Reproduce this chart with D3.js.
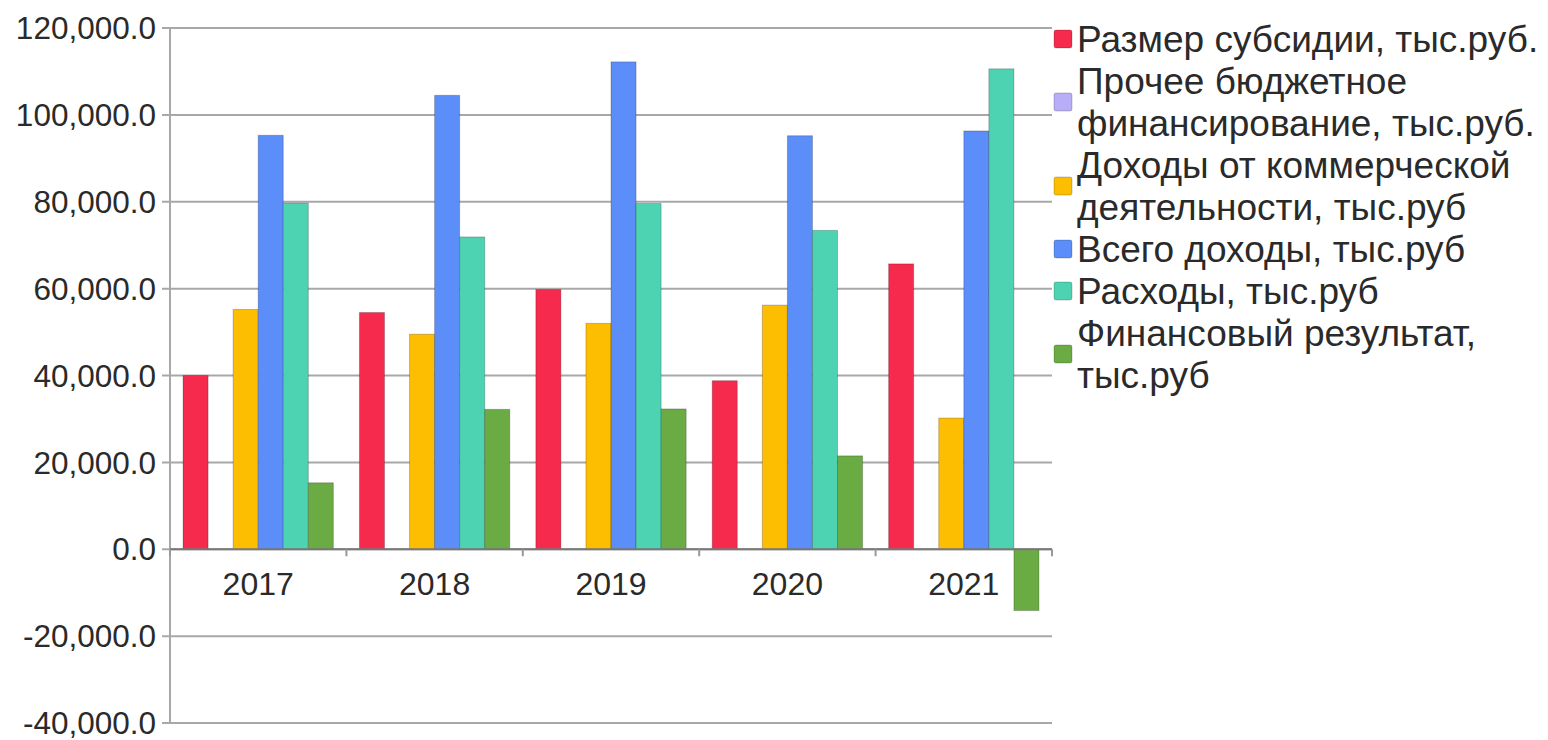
<!DOCTYPE html>
<html>
<head>
<meta charset="utf-8">
<script src="https://cdn.jsdelivr.net/npm/d3@7"></script>
<style>
  html, body { margin: 0; padding: 0; background: #fff; }
  svg { display: block; font-family: "Liberation Sans", Arial, sans-serif; }
</style>
</head>
<body>
<div id="chart"></div>
<script>
"use strict";

/* ── Data ── */
const years = ["2017", "2018", "2019", "2020", "2021"];
const seriesNames = [
  "Размер субсидии, тыс.руб.",
  "Прочее бюджетное финансирование, тыс.руб.",
  "Доходы от коммерческой деятельности, тыс.руб",
  "Всего доходы, тыс.руб",
  "Расходы, тыс.руб",
  "Финансовый результат, тыс.руб"
];
const legendLines = [
  ["Размер субсидии, тыс.руб."],
  ["Прочее бюджетное", "финансирование, тыс.руб."],
  ["Доходы от коммерческой", "деятельности, тыс.руб"],
  ["Всего доходы, тыс.руб"],
  ["Расходы, тыс.руб"],
  ["Финансовый результат,", "тыс.руб"]
];
const subsidy     = [40000, 54500, 59800, 38800, 65700];
const otherBudget = [0, 0, 0, 0, 0];
const commercial  = [55200, 49500, 52000, 56200, 30200];
const totalIncome = [95300, 104500, 112200, 95200, 96300];
const expenses    = [79700, 71900, 79600, 73400, 110600];
const result      = [15300, 32200, 32300, 21500, -14100];
const yTicks = [120000, 100000, 80000, 60000, 40000, 20000, 0, -20000, -40000];

const seriesValues = [subsidy, otherBudget, commercial, totalIncome, expenses, result];
const colours = ["#f62a4d", "#b8aef8", "#fdbd00", "#5b8ef8", "#4ed3b2", "#6aab44"];

/* ── Dimensions ── */
const W = 1548, H = 740;
const plot = { left: 170, right: 1052, top: 28, bottom: 723 };

const svg = d3.select("#chart").append("svg")
  .attr("width", W).attr("height", H);

/* ── Scales ── */
const y = d3.scaleLinear().domain([-40000, 120000]).range([plot.bottom, plot.top]);
const x0 = d3.scaleBand().domain(years).range([plot.left, plot.right]).padding(0);
const x1 = d3.scaleBand().domain(d3.range(seriesNames.length))
  .range([0, x0.bandwidth()]).paddingInner(0).paddingOuter(0.52);

// "-" instead of unicode minus, like the source
const fmt = d => d3.format(",.1f")(d).replace("\u2212", "-");

/* ── Gridlines ── */
svg.append("g")
  .selectAll("line")
  .data(yTicks)
  .join("line")
  .attr("x1", plot.left - 8).attr("x2", plot.right)
  .attr("y1", d => y(d)).attr("y2", d => y(d))
  .attr("stroke", "#a8a8a8").attr("stroke-width", 2);

/* ── Y axis ── */
svg.append("line")
  .attr("x1", plot.left).attr("x2", plot.left)
  .attr("y1", plot.top).attr("y2", plot.bottom)
  .attr("stroke", "#a8a8a8").attr("stroke-width", 2);

svg.append("g")
  .attr("transform", `translate(${plot.left - 14},0)`)
  .call(d3.axisLeft(y).tickValues(yTicks).tickSize(0).tickFormat(fmt))
  .call(g => {
    g.select(".domain").remove();
    g.selectAll(".tick text")
      .attr("fill", "#2a2a2a")
      .attr("font-size", "31.5px")
      .attr("font-family", "Liberation Sans, Arial, sans-serif")
      .attr("x", 0).attr("dy", "0.34em");
  });

/* ── Bars ── */
const groups = svg.append("g")
  .selectAll("g")
  .data(years)
  .join("g")
  .attr("transform", d => `translate(${x0(d)},0)`);

groups.selectAll("rect")
  .data((d, i) => seriesValues.map((vals, s) => ({ s, value: vals[i] })))
  .join("rect")
  .attr("x", d => x1(d.s))
  .attr("y", d => y(Math.max(0, d.value)))
  .attr("width", x1.bandwidth())
  .attr("height", d => Math.abs(y(d.value) - y(0)))
  .attr("fill", d => colours[d.s])
  .attr("stroke", "rgba(0,0,0,0.22)")
  .attr("stroke-width", 1);

/* ── X axis at zero ── */
svg.append("g")
  .attr("transform", `translate(0,${y(0)})`)
  .call(d3.axisBottom(x0).tickSize(0))
  .call(g => {
    g.select(".domain").attr("stroke", "#777").attr("stroke-width", 2)
      .attr("d", `M${plot.left},0H${plot.right}`);
    g.selectAll(".tick text")
      .attr("fill", "#2a2a2a")
      .attr("font-size", "32px")
      .attr("font-family", "Liberation Sans, Arial, sans-serif")
      .attr("y", 0).attr("dy", "1.44em");
  });

svg.append("g")
  .selectAll("line")
  .data(years.map(d => x0(d)).concat([plot.right]))
  .join("line")
  .attr("x1", d => d).attr("x2", d => d)
  .attr("y1", y(0)).attr("y2", y(0) + 7)
  .attr("stroke", "#999").attr("stroke-width", 2);

/* ── Legend ── */
const lineH = 42;
const legend = svg.append("g").attr("transform", "translate(1053,0)");
let lineNo = 0;
legendLines.forEach((lines, i) => {
  const firstBase = 52 + lineNo * lineH;
  const mid = firstBase - 14 + (lines.length - 1) * lineH / 2;
  legend.append("rect")
    .attr("x", 1).attr("y", mid - 8)
    .attr("width", 18).attr("height", 18)
    .attr("rx", 2)
    .attr("fill", colours[i])
    .attr("stroke", "rgba(0,0,0,0.2)");
  lines.forEach((t, k) => {
    legend.append("text")
      .attr("x", 24).attr("y", firstBase + k * lineH)
      .attr("fill", "#2a2a2a")
      .attr("font-size", "37px")
      .text(t);
  });
  lineNo += lines.length;
});
</script>
</body>
</html>
